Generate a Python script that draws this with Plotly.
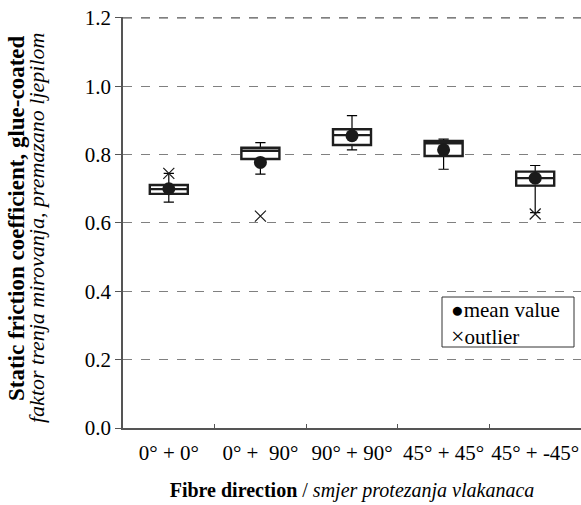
import plotly.graph_objects as go

categories = ["0° + 0°", "0° +  90°", "90° + 90°", "45° + 45°", "45° + -45°"]
q1 = [0.685, 0.787, 0.828, 0.796, 0.709]
median = [0.699, 0.811, 0.857, 0.833, 0.731]
q3 = [0.711, 0.820, 0.874, 0.840, 0.750]
lower_whisker = [0.661, 0.743, 0.814, 0.757, 0.630]
upper_whisker = [0.745, 0.835, 0.914, 0.845, 0.768]
mean_value = [0.700, 0.777, 0.855, 0.814, 0.731]
outlier_x = ["0° + 0°", "0° +  90°", "45° + -45°"]
outlier_y = [0.745, 0.620, 0.626]
y_max = 1.2

FONT = "Liberation Serif"

W, H = 581, 505
ML, MR, MT, MB = 123, 0, 17, 77

fig = go.Figure()

# whiskers (thin)
fig.add_trace(go.Box(
    x=categories, q1=q1, median=median, q3=q3,
    lowerfence=lower_whisker, upperfence=upper_whisker,
    width=0.415, whiskerwidth=0.27,
    line=dict(color="black", width=1.2), fillcolor="white",
    boxpoints=False, showlegend=False, hoverinfo="skip",
))
# box body (thick)
fig.add_trace(go.Box(
    x=categories, q1=q1, median=median, q3=q3,
    lowerfence=q1, upperfence=q3,
    width=0.415, whiskerwidth=0,
    line=dict(color="#1e1e1e", width=2.4), fillcolor="white",
    boxpoints=False, showlegend=False,
))
fig.add_trace(go.Scatter(
    x=categories, y=mean_value, mode="markers", name="mean value",
    marker=dict(symbol="circle", size=13, color="#1a1a1a"), showlegend=False,
))
fig.add_trace(go.Scatter(
    x=outlier_x, y=outlier_y, mode="markers", name="outlier",
    marker=dict(symbol="x-thin", size=11, line=dict(color="#1a1a1a", width=1.2)),
    showlegend=False,
))

pw = W - ML - MR
ph = H - MT - MB
def px(x):
    return (x - ML) / pw
def py(y):
    return (H - MB - y) / ph

# top dashed grid line at the axis maximum
fig.add_shape(type="line", xref="paper", yref="y", x0=0, x1=1, y0=y_max, y1=y_max,
              line=dict(color="#555555", width=1.2, dash="dash"), layer="below")

# legend drawn as a bordered box with text
fig.add_shape(type="rect", xref="paper", yref="paper",
              x0=px(442), x1=px(574), y0=py(347), y1=py(297),
              line=dict(color="#333333", width=1), fillcolor="white", layer="above")
fig.add_annotation(
    xref="paper", yref="paper", x=px(449), y=py(323), xanchor="left", yanchor="middle",
    text="●mean value<br><span style='font-size:24px'>×</span>outlier",
    align="left", showarrow=False,
    font=dict(family=FONT, size=21, color="black"),
)

# y axis title (two lines)
fig.add_annotation(
    xref="paper", yref="paper", x=px(17), y=py(218), xanchor="center", yanchor="middle",
    text="<b>Static friction coefficient, glue-coated</b>", textangle=-90, showarrow=False,
    font=dict(family=FONT, size=23, color="black"),
)
fig.add_annotation(
    xref="paper", yref="paper", x=px(37), y=py(228), xanchor="center", yanchor="middle",
    text="<i>faktor trenja mirovanja, premazano ljepilom</i>", textangle=-90, showarrow=False,
    font=dict(family=FONT, size=22, color="black"),
)

fig.update_layout(
    width=W, height=H,
    margin=dict(l=ML, r=MR, t=MT, b=MB, autoexpand=False),
    paper_bgcolor="white", plot_bgcolor="white",
    font=dict(family=FONT, size=21, color="black"),
    boxmode="overlay",
    showlegend=False,
)
fig.update_xaxes(
    type="category", range=[-0.5, 4.5], automargin=False, tickangle=0,
    showline=True, linecolor="#555555", linewidth=1.5,
    ticks="inside", ticklen=4, tickcolor="#555555", tickson="boundaries",
    ticklabelstandoff=5, ticklabeloverflow="allow",
    showgrid=False, zeroline=False,
    tickfont=dict(family=FONT, size=21, color="black"),
    title=dict(text="<b>Fibre direction</b> / <i>smjer protezanja vlakanaca</i>",
               font=dict(family=FONT, size=20, color="black"), standoff=19),
)
fig.update_yaxes(
    range=[0, 1.2025], dtick=0.2, tick0=0, tickformat=".1f", automargin=False,
    ticklabeloverflow="allow",
    showline=True, linecolor="#555555", linewidth=1.5,
    ticks="outside", ticklen=6, tickcolor="#555555",
    showgrid=True, gridcolor="#808080", griddash="dash", gridwidth=1,
    zeroline=False,
    tickfont=dict(family=FONT, size=21, color="black"),
)

fig.write_html(
    "out.html",
    config={"displayModeBar": False},
    post_script="document.body.style.margin='0';document.body.style.overflow='hidden';",
)
